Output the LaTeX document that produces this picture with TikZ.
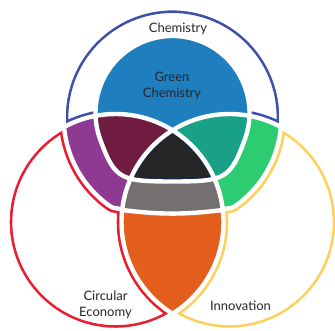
\documentclass[tikz,border=0pt]{standalone}
\usepackage{fontspec}
\setmainfont{Lato}
\usepackage{tikz}
\definecolor{chemline}{RGB}{62,80,170}
\definecolor{circline}{RGB}{234,28,46}
\definecolor{innoline}{RGB}{254,208,90}
\definecolor{greenchem}{RGB}{31,126,190}
\definecolor{cmaroon}{RGB}{112,27,64}
\definecolor{cteal}{RGB}{24,161,134}
\definecolor{cpurple}{RGB}{142,58,146}
\definecolor{cgreen}{RGB}{46,204,113}
\definecolor{cblack}{RGB}{38,38,38}
\definecolor{cnavy}{RGB}{24,40,66}
\definecolor{cgray}{RGB}{116,112,112}
\definecolor{corange}{RGB}{227,93,29}
\definecolor{ctext}{RGB}{38,38,42}
\tikzset{gapline/.style={draw=white,line width=4.4pt},
	 rimline/.style={line width=9.6pt},
	 venntext/.style={font=\fontsize{13}{16}\selectfont,text=ctext,align=center,inner sep=0pt}
	 }
\newcommand\rcirc{(115.5,109) circle[radius=108]}
\newcommand\ycirc{(229.5,109) circle[radius=108]}
\newcommand\bshape{(222.8,121) to[out=30,in=-145] (234.96,124.7) arc[start angle=-55,end angle=235,radius=108.9]
  to[out=-35,in=150] (122.2,121) to[bend right=7] (222.8,121) -- cycle}
\newcommand\gshape{(244.86,191.66) arc[start angle=-20,end angle=200,radius=77]
  to[out=-70,in=180,out looseness=1.3,in looseness=1.6] (172.5,149.5)
  to[out=0,in=250,out looseness=1.6,in looseness=1.3] (244.86,191.66) -- cycle}
\newcommand\outside{(-20,-20) rectangle (360,360)}

\begin{document}
\begin{tikzpicture}[x=1pt,y=1pt]
  \useasboundingbox (0,0) rectangle (335,331);
  \begin{scope}[even odd rule]
    \clip \bshape;
    \clip \rcirc \outside;
    \clip \ycirc \outside;
    \draw[rimline,chemline] \bshape \rcirc \ycirc;
  \end{scope}
  \begin{scope}[even odd rule]
    \clip \rcirc;
    \clip \bshape \outside;
    \clip \ycirc \outside;
    \draw[rimline,circline] \bshape \rcirc \ycirc;
  \end{scope}
  \begin{scope}[even odd rule]
    \clip \ycirc;
    \clip \bshape \outside;
    \clip \rcirc \outside;
    \draw[rimline,innoline] \bshape \rcirc \ycirc;
  \end{scope}
  \fill[greenchem] \gshape;
  \begin{scope}
    \clip \rcirc;
    \fill[cpurple] \bshape;
    \fill[cmaroon] \gshape;
  \end{scope}
  \begin{scope}
    \clip \ycirc;
    \fill[cgreen] \bshape;
    \fill[cteal] \gshape;
    \clip \rcirc;
    \fill[corange] \ycirc;
    \fill[cgray] \bshape;
    \fill[cblack] \gshape;
    \clip \gshape;
    \draw[cnavy,line width=6.6pt] \gshape \rcirc \ycirc;
  \end{scope}
  \draw[gapline] \rcirc \ycirc \bshape \gshape;
  \node[venntext,anchor=base] (chem) at (178,298) {Chemistry};
  \node[venntext] (green) at (172,245) {Green\\Chemistry};
  \node[venntext] (circ) at (105.5,26.3) {Circular\\Economy};
  \node[venntext,anchor=base] (inno) at (240.5,20) {Innovation};
\end{tikzpicture}
\end{document}
